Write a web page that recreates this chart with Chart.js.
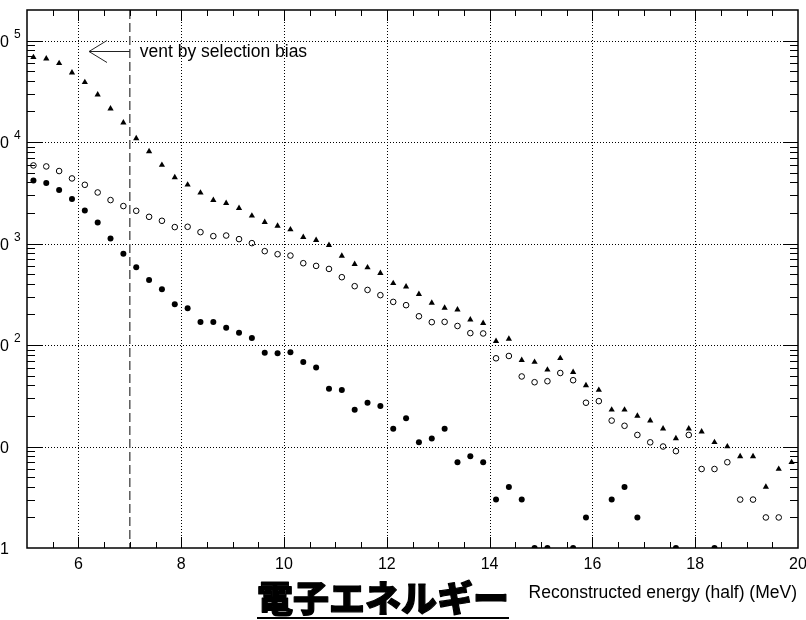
<!DOCTYPE html>
<html>
<head>
<meta charset="utf-8">
<script src="https://cdn.jsdelivr.net/npm/chart.js@4.4.1/dist/chart.umd.min.js"></script>
<style>
  html, body { margin: 0; padding: 0; background: #fff; }
  canvas { display: block; }
</style>
</head>
<body>
<canvas id="spectrum" width="806" height="620"></canvas>
<script>
// Bin centres (MeV), 0.25 MeV wide bins
const energy = [
  5.125, 5.375, 5.625, 5.875, 6.125, 6.375, 6.625, 6.875, 7.125, 7.375,
  7.625, 7.875, 8.125, 8.375, 8.625, 8.875, 9.125, 9.375, 9.625, 9.875,
  10.125, 10.375, 10.625, 10.875, 11.125, 11.375, 11.625, 11.875, 12.125, 12.375,
  12.625, 12.875, 13.125, 13.375, 13.625, 13.875, 14.125, 14.375, 14.625, 14.875,
  15.125, 15.375, 15.625, 15.875, 16.125, 16.375, 16.625, 16.875, 17.125, 17.375,
  17.625, 17.875, 18.125, 18.375, 18.625, 18.875, 19.125, 19.375, 19.625, 19.875,
];

// Entries per bin, triangles
const countsTri = [
  68400, 66400, 59700, 48300, 38800, 29300, 21300, 15500, 10860, 8090,
  5930, 4480, 3790, 3160, 2680, 2500, 2230, 1875, 1626, 1494,
  1374, 1156, 1080, 964, 756, 626, 580, 510, 406, 376,
  317, 260, 232, 223, 178, 164, 109, 115, 71, 68,
  57, 74, 54, 40, 36, 23, 23, 20, 18, 15,
  12, 15, 14, 11, 10, 8, 8, 4, 6, 7,
];

// Entries per bin, open circles
const countsOpen = [
  5880, 5750, 5180, 4380, 3790, 3185, 2680, 2340, 2100, 1833,
  1675, 1452, 1462, 1295, 1183, 1199, 1105, 1009, 841, 785,
  761, 640, 602, 562, 466, 380, 349, 310, 266, 247,
  192, 168, 169, 154, 131, 130, 74, 78, 49, 43,
  44, 53, 45, 27, 28, 18, 16, 13, 11, 10,
  9, 13, 6, 6, 7, 3, 3, 2, 2, null,
];

// Entries per bin, filled circles (empty bins left out)
const countsDot = [
  4180, 3945, 3365, 2740, 2115, 1610, 1120, 791, 585, 438,
  355, 252, 230, 169, 169, 148, 132, 117, 84, 83,
  85, 68, 60, 37, 36, 23, 27, 25, 15, 19,
  11, 12, 15, 7, 8, 7, 3, 4, 3, 1,
  1, null, 1, 2, null, 3, 4, 2, null, null,
  1, null, null, 1, null, null, null, null, null, null,
];

// Axis ranges and labels
const xMin = 5, xMax = 20;
const yMin = 1, yMax = 2e5;
const xLabels = [6, 8, 10, 12, 14, 16, 18, 20];
const yDecades = [1, 10, 100, 1000, 10000, 100000];
const yLabelBase = ["1", "10", "10", "10", "10", "10"];
const yLabelExp = ["", "", "2", "3", "4", "5"];

const cutEnergy = 7;
const noteText = "vent by selection bias";
const axisTitle = "Reconstructed energy (half) (MeV)";
const mainTitle = "電子エネルギー";

const FONT = "'Liberation Sans', Arial, Helvetica, sans-serif";

const toPoints = (ys) =>
  energy.map((x, i) => ({ x: x, y: ys[i] })).filter((p) => p.y !== null);

const seg = (ctx, x1, y1, x2, y2) => {
  ctx.beginPath();
  ctx.moveTo(x1, y1);
  ctx.lineTo(x2, y2);
  ctx.stroke();
};

// Grid, frame, inward ticks and all the text, ROOT style
const framePlugin = {
  id: "frame",
  beforeDatasetsDraw(chart) {
    const { ctx, chartArea: a, scales: { x, y } } = chart;
    ctx.save();
    ctx.strokeStyle = "#000";
    ctx.lineWidth = 1;
    ctx.setLineDash([1, 2]);
    for (const v of xLabels) {
      if (v >= xMax) continue;
      const px = Math.round(x.getPixelForValue(v)) + 0.5;
      seg(ctx, px, a.top, px, a.bottom);
    }
    for (const d of yDecades) {
      if (d <= yMin) continue;
      const py = Math.round(y.getPixelForValue(d)) + 0.5;
      seg(ctx, a.left, py, a.right, py);
    }

    // dashed line at the cut energy
    ctx.setLineDash([9, 4]);
    ctx.strokeStyle = "#5a5a5a";
    ctx.lineWidth = 1.5;
    const cx = x.getPixelForValue(cutEnergy);
    seg(ctx, cx, a.top, cx, a.bottom);
    ctx.restore();
  },
  afterDraw(chart) {
    const { ctx, chartArea: a, scales: { x, y } } = chart;
    ctx.save();
    ctx.strokeStyle = "#000";
    ctx.lineWidth = 1;

    // x ticks every 0.5, long ones on the labelled values
    for (let v = xMin + 0.5; v < xMax; v += 0.5) {
      const px = Math.round(x.getPixelForValue(v)) + 0.5;
      const len = v % 2 === 0 ? 11 : 6;
      seg(ctx, px, a.bottom, px, a.bottom - len);
      seg(ctx, px, a.top, px, a.top + len);
    }

    // y ticks: decades long, 2..9 short
    for (const d of yDecades) {
      for (let m = 1; m <= 9; m++) {
        const v = d * m;
        if (v <= yMin || v >= yMax) continue;
        const py = Math.round(y.getPixelForValue(v)) + 0.5;
        const len = m === 1 ? 15 : 8;
        seg(ctx, a.left, py, a.left + len, py);
        seg(ctx, a.right, py, a.right - len, py);
      }
    }

    // frame
    ctx.lineWidth = 1.5;
    ctx.strokeRect(a.left, a.top, a.right - a.left, a.bottom - a.top);

    // tick labels
    ctx.fillStyle = "#000";
    ctx.font = "16px " + FONT;
    ctx.textAlign = "center";
    ctx.textBaseline = "middle";
    for (const v of xLabels) {
      ctx.fillText(String(v), x.getPixelForValue(v), a.bottom + 17);
    }
    yDecades.forEach((d, i) => {
      const py = y.getPixelForValue(d);
      ctx.font = "16px " + FONT;
      ctx.textAlign = "right";
      ctx.textBaseline = "middle";
      ctx.fillText(yLabelBase[i], 9, py + 2);
      if (yLabelExp[i]) {
        ctx.font = "12px " + FONT;
        ctx.textAlign = "left";
        ctx.fillText(yLabelExp[i], 14, py - 6);
      }
    });

    // axis title
    ctx.font = "17.5px " + FONT;
    ctx.textAlign = "right";
    ctx.textBaseline = "middle";
    ctx.fillText(axisTitle, a.right - 1, a.bottom + 45);

    // big underlined title, heavy gothic
    ctx.font = "900 36px 'Noto Sans CJK JP', sans-serif";
    ctx.textAlign = "center";
    ctx.textBaseline = "middle";
    const tx = 383, ty = 598;
    ctx.lineWidth = 1.2;
    ctx.lineJoin = "round";
    ctx.strokeText(mainTitle, tx, ty);
    ctx.fillText(mainTitle, tx, ty);
    const w = ctx.measureText(mainTitle).width;
    ctx.fillRect(tx - w / 2, 617, w, 2);

    // note with arrow pointing left of the cut
    const cx = x.getPixelForValue(cutEnergy);
    ctx.font = "17.5px " + FONT;
    ctx.textAlign = "left";
    ctx.textBaseline = "alphabetic";
    ctx.fillText(noteText, cx + 10, 57);
    ctx.strokeStyle = "#222";
    ctx.lineWidth = 1;
    const tip = 89, ay = 51.5;
    seg(ctx, tip, ay, cx, ay);
    seg(ctx, tip, ay, tip + 18, ay - 11);
    seg(ctx, tip, ay, tip + 18, ay + 11);
    ctx.restore();
  },
};

const markerBase = {
  showLine: false,
  clip: 0,
  pointHoverRadius: 3,
};

const chart = new Chart(document.getElementById("spectrum"), {
  type: "scatter",
  plugins: [framePlugin],
  data: {
    datasets: [
      {
        ...markerBase,
        data: toPoints(countsTri),
        pointStyle: "triangle",
        pointRadius: 3.6,
        backgroundColor: "#000",
        borderColor: "#000",
        borderWidth: 0,
      },
      {
        ...markerBase,
        data: toPoints(countsOpen),
        pointStyle: "circle",
        pointRadius: 2.8,
        backgroundColor: "rgba(0,0,0,0)",
        borderColor: "#000",
        borderWidth: 1,
      },
      {
        ...markerBase,
        data: toPoints(countsDot),
        pointStyle: "circle",
        pointRadius: 3,
        backgroundColor: "#000",
        borderColor: "#000",
        borderWidth: 0,
      },
    ],
  },
  options: {
    responsive: false,
    animation: false,
    layout: { padding: { left: 27, top: 10, right: 8, bottom: 72 } },
    plugins: {
      legend: { display: false },
      tooltip: { enabled: false },
    },
    scales: {
      x: { type: "linear", min: xMin, max: xMax, display: false },
      y: { type: "logarithmic", min: yMin, max: yMax, display: false },
    },
  },
});
</script>
</body>
</html>
